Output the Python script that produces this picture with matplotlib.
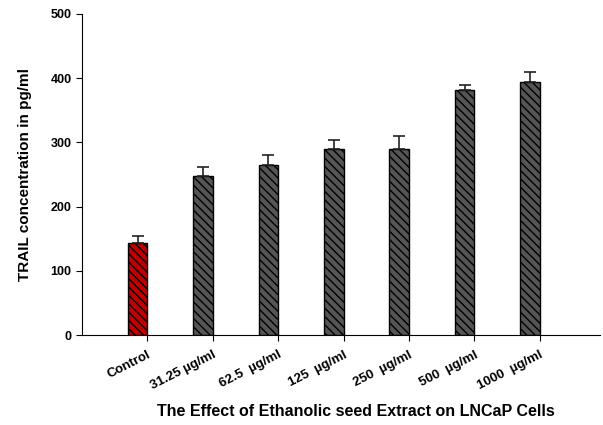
import numpy as np
import matplotlib.pyplot as plt

plt.rcParams['font.family'] = ['Liberation Sans', 'DejaVu Sans']
plt.rcParams['hatch.linewidth'] = 1.0

# データ
labels = ["Control", "31.25 µg/ml", "62.5  µg/ml", "125  µg/ml",
          "250  µg/ml", "500  µg/ml", "1000  µg/ml"]
values = [144, 247, 265, 289, 290, 381, 394]
errors = [10, 14, 16, 14, 20, 8, 16]
colors = ["#c00000", "#555555", "#555555", "#555555", "#555555", "#555555", "#555555"]

fig = plt.figure(figsize=(6.03, 4.25), dpi=100)
ax = fig.add_axes([82/603, 1-335/425, 518/603, 321/425])

x = np.arange(len(values))
ax.bar(x, values, width=-0.3, align='edge', color=colors,
       edgecolor="black", linewidth=1.0, hatch="\\\\\\\\")
ax.errorbar(x - 0.15, values, yerr=[np.zeros(len(errors)), errors], fmt="none",
            ecolor="#222222", elinewidth=1.2, capsize=4, capthick=1.2)

ax.set_xlim(-1, 6.92)
ax.set_ylim(0, 500)
ax.set_yticks([0, 100, 200, 300, 400, 500])
ax.set_xticks(x)
ax.set_xticklabels(labels, rotation=27, ha="right", rotation_mode="anchor",
                   fontsize=9.5, fontweight="bold")
for t in ax.get_yticklabels():
    t.set_fontsize(9)
    t.set_fontweight("bold")
ax.tick_params(axis="both", direction="out", length=4)
ax.tick_params(axis="x", pad=6)

ax.spines["top"].set_visible(False)
ax.spines["right"].set_visible(False)

ax.set_ylabel("TRAIL concentration in pg/ml", fontsize=11, fontweight="bold")
ax.yaxis.set_label_coords(-50/518, 0.5)
fig.text(356/603, 1-412/425, "The Effect of Ethanolic seed Extract on LNCaP Cells",
         ha="center", va="center", fontsize=11.5, fontweight="bold")

fig.savefig("out.png")
